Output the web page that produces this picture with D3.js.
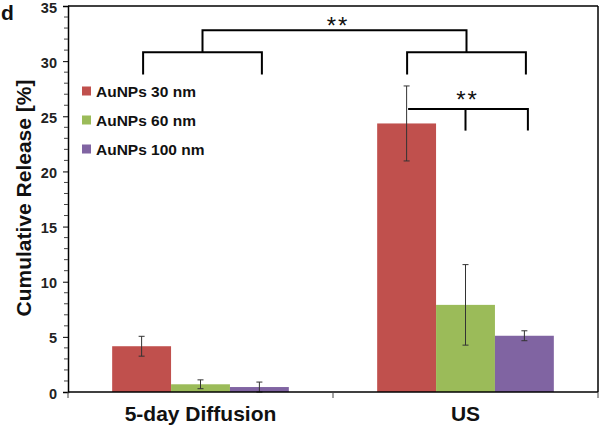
<!DOCTYPE html>
<html><head><meta charset="utf-8">
<script src="https://cdn.jsdelivr.net/npm/d3@7"></script>
<style>body{margin:0;background:#fff}svg{display:block;font-family:"Liberation Sans",Arial,sans-serif}</style>
</head><body>
<script>
const categories = ["5-day Diffusion", "US"];
const seriesNames = ["AuNPs 30 nm", "AuNPs 60 nm", "AuNPs 100 nm"];
const colors = ["#C0504D", "#9BBB59", "#8064A2"];
const values30 = [4.15, 24.35];
const values60 = [0.7, 7.9];
const values100 = [0.45, 5.1];
const err30 = [0.9, 3.4];
const err60 = [0.4, 3.65];
const err100 = [0.45, 0.45];
const yTicks = [0, 5, 10, 15, 20, 25, 30, 35];

const W = 600, H = 429;
const m = {l: 68, r: 2, t: 6, b: 37};
const svg = d3.select("body").append("svg").attr("width", W).attr("height", H);

const x = d3.scaleBand().domain(categories).range([m.l, W - m.r]);
const xs = d3.scaleBand().domain(seriesNames).range([0, x.bandwidth()]).paddingOuter(0.75).paddingInner(0);
const y = d3.scaleLinear().domain([0, 35]).range([H - m.b, m.t]);

const data = [values30, values60, values100];
const errs = [err30, err60, err100];

// bars
seriesNames.forEach((s, si) => {
  categories.forEach((c, ci) => {
    svg.append("rect")
      .attr("x", x(c) + xs(s)).attr("width", xs.bandwidth())
      .attr("y", y(data[si][ci])).attr("height", y(0) - y(data[si][ci]))
      .attr("fill", colors[si]);
  });
});
// error bars
seriesNames.forEach((s, si) => {
  categories.forEach((c, ci) => {
    const cx = x(c) + xs(s) + xs.bandwidth() / 2;
    const v = data[si][ci], e = errs[si][ci];
    const g = svg.append("g").attr("stroke", "#333").attr("stroke-width", 1);
    g.append("line").attr("x1", cx).attr("x2", cx).attr("y1", y(v + e)).attr("y2", y(v - e));
    [v + e, v - e].forEach(t => g.append("line").attr("x1", cx - 3).attr("x2", cx + 3).attr("y1", y(t)).attr("y2", y(t)));
  });
});

// y axis
const yAxis = d3.axisLeft(y).tickValues(yTicks).tickSize(5).tickPadding(6);
const ya = svg.append("g").attr("transform", `translate(${m.l},0)`).call(yAxis);
ya.select(".domain").attr("stroke", "#000").attr("stroke-width", 1.5);
ya.selectAll(".tick line").attr("stroke", "#000");
ya.selectAll(".tick text").attr("font-size", 14.5).attr("font-weight", "bold").attr("fill", "#222")
  .attr("dy", "0.42em").attr("font-family", "Liberation Sans, Arial, sans-serif");
const minor = d3.range(0, 36).filter(v => v % 5 !== 0);
ya.selectAll(".minor").data(minor).enter().append("line")
  .attr("x1", -4).attr("x2", 0).attr("y1", d => y(d)).attr("y2", d => y(d)).attr("stroke", "#444");

// x axis
const xa = svg.append("g").attr("transform", `translate(0,${y(0)})`);
xa.append("line").attr("x1", m.l).attr("x2", W - m.r).attr("stroke", "#000").attr("stroke-width", 1.5);
[m.l, x.range()[0] + x.step(), W - m.r].forEach(px =>
  xa.append("line").attr("x1", px).attr("x2", px).attr("y1", 0).attr("y2", 6).attr("stroke", "#444"));
categories.forEach(c => xa.append("text").attr("x", x(c) + x.bandwidth() / 2).attr("y", 29)
  .attr("text-anchor", "middle").attr("font-size", 21).attr("font-weight", "bold").attr("fill", "#111").text(c));

// frame top/right
svg.append("line").attr("x1", m.l).attr("x2", W - m.r).attr("y1", y(35)).attr("y2", y(35)).attr("stroke", "#000").attr("stroke-width", 1.5);
svg.append("line").attr("x1", W - m.r).attr("x2", W - m.r).attr("y1", y(35)).attr("y2", y(0)).attr("stroke", "#000").attr("stroke-width", 1.5);

// y title
svg.append("text").attr("transform", `translate(31,198) rotate(-90)`)
  .attr("text-anchor", "middle").attr("font-size", 21).attr("font-weight", "bold").attr("fill", "#111")
  .text("Cumulative Release [%]");
// panel letter
svg.append("text").attr("x", 1).attr("y", 20).attr("font-size", 21).attr("font-weight", "bold").attr("fill", "#111").text("d");

// legend
seriesNames.forEach((s, i) => {
  const ly = 91 + i * 29;
  svg.append("rect").attr("x", 82).attr("y", ly - 4.5).attr("width", 9).attr("height", 9).attr("fill", colors[i]);
  svg.append("text").attr("x", 96).attr("y", ly + 5.5).attr("font-size", 15.5).attr("font-weight", "bold").attr("fill", "#111").text(s);
});

// significance brackets
const br = svg.append("g").attr("stroke", "#000").attr("stroke-width", 2).attr("fill", "none");
const barC = (c, s) => x(c) + xs(s) + xs.bandwidth() / 2;
function bracket(x1, x2, yTop, yLeg) {
  br.append("path").attr("d", `M${x1},${yLeg}V${yTop}H${x2}V${yLeg}`);
}
const lx1 = barC(categories[0], seriesNames[0]) + 1.5, lx2 = barC(categories[0], seriesNames[2]) + 2.5;
const rx1 = barC(categories[1], seriesNames[0]) + 0.5, rx2 = barC(categories[1], seriesNames[2]) + 1.5;
bracket(lx1, lx2, y(30.8), y(28.8));
bracket(rx1, rx2, y(30.8), y(28.8));
bracket((lx1 + lx2) / 2, (rx1 + rx2) / 2, y(32.8), y(30.8));
// inner bracket
br.append("path").attr("d", `M${rx1 + 1},${y(25.65)}H${rx2 + 2}V${y(23.7)}`);
br.append("path").attr("d", `M${(rx1 + rx2) / 2 - 1},${y(25.65)}V${y(23.7)}`);
svg.append("text").attr("x", 338).attr("y", 34).attr("text-anchor", "middle")
  .attr("font-size", 24).attr("fill", "#111").attr("letter-spacing", 2).text("**");
svg.append("text").attr("x", (rx1 + rx2) / 2 + 1).attr("y", 108).attr("text-anchor", "middle")
  .attr("font-size", 24).attr("fill", "#111").attr("letter-spacing", 2).text("**");
</script>
</body></html>
